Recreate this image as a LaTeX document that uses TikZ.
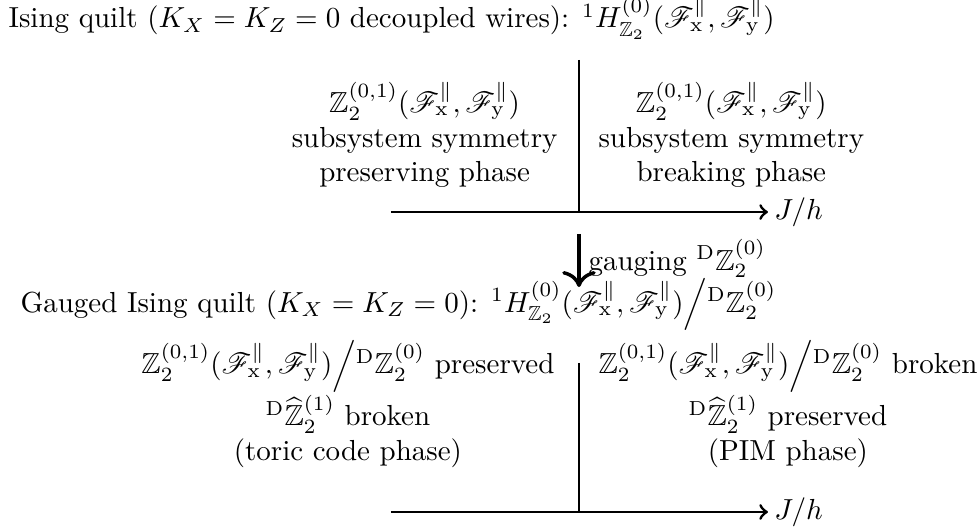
\documentclass[tikz,border=0pt]{standalone}
\usepackage{amsmath,amssymb,mathrsfs}
\usetikzlibrary{arrows.meta, positioning, calc}

\newcommand{\Fx}{\mathscr{F}_{\mathrm{x}}^{\parallel}}
\newcommand{\Fy}{\mathscr{F}_{\mathrm{y}}^{\parallel}}
\newcommand{\DZ}{{}^{\mathrm{D}}\mathbb{Z}_2^{(0)}}
\newcommand{\DZhat}{{}^{\mathrm{D}}\widehat{\mathbb{Z}}_2^{(1)}}
\newcommand{\Zsub}{\mathbb{Z}_2^{(0,1)}(\Fx,\Fy)}
\newcommand{\Hone}{{}^{1}H^{(0)}_{\mathbb{Z}_2}(\Fx,\Fy)}

\begin{document}
\begin{tikzpicture}[
    axis/.style={line width=1pt},
    arr/.style={line width=1pt, -to},
    phase/.style={align=center, inner sep=0pt},
    title/.style={anchor=base west, inner sep=0pt}
]
\useasboundingbox (0,0) rectangle (11.855,-6.448);
% ungauged quilt
\node[title] (t1) at (0.097,-0.339)
  {Ising quilt ($K_X=K_Z=0$ decoupled wires): $\Hone$};
\coordinate (up1) at (7.018,-0.727);
\coordinate (o1)  at (7.018,-2.570);
\coordinate (l1)  at (4.739,-2.570);
\coordinate (r1)  at (9.309,-2.570);
\draw[axis] (up1) -- (o1);
\draw[arr] (l1) -- (r1);
\node[right=2pt of r1, inner sep=0pt] (jh1) {$J/h$};
\node[phase, anchor=east] (p1) at (6.764,-1.636)
  {$\Zsub$\\ subsystem symmetry\\ preserving phase};
\node[phase, anchor=west] (b1) at (7.248,-1.636)
  {$\Zsub$\\ subsystem symmetry\\ breaking phase};
% gauging step
\coordinate (g0) at (7.018,-2.836);
\coordinate (g1) at (7.018,-3.479);
\draw[line width=1.2pt, -{To[scale=1.3]}] (g0) -- (g1);
\node[anchor=base west, inner sep=0pt] (gl) at (7.127,-3.273) {gauging $\DZ$};
% gauged quilt
\node[title] (t2) at (0.242,-3.782)
  {Gauged Ising quilt ($K_X=K_Z=0$): $\Hone\Big/\DZ$};
\coordinate (up2) at (7.018,-4.400);
\coordinate (o2)  at (7.018,-6.206);
\coordinate (l2)  at (4.739,-6.206);
\coordinate (r2)  at (9.309,-6.206);
\draw[axis] (up2) -- (o2);
\draw[arr] (l2) -- (r2);
\node[right=2pt of r2, inner sep=0pt] (jh2) {$J/h$};
\node[phase, anchor=east] (p2) at (6.727,-4.897)
  {$\Zsub\Big/\DZ$ preserved\\ $\DZhat$ broken\\ (toric code phase)};
\node[phase, anchor=west] (b2) at (7.248,-4.897)
  {$\Zsub\Big/\DZ$ broken\\ $\DZhat$ preserved\\ (PIM phase)};
\end{tikzpicture}
\end{document}
